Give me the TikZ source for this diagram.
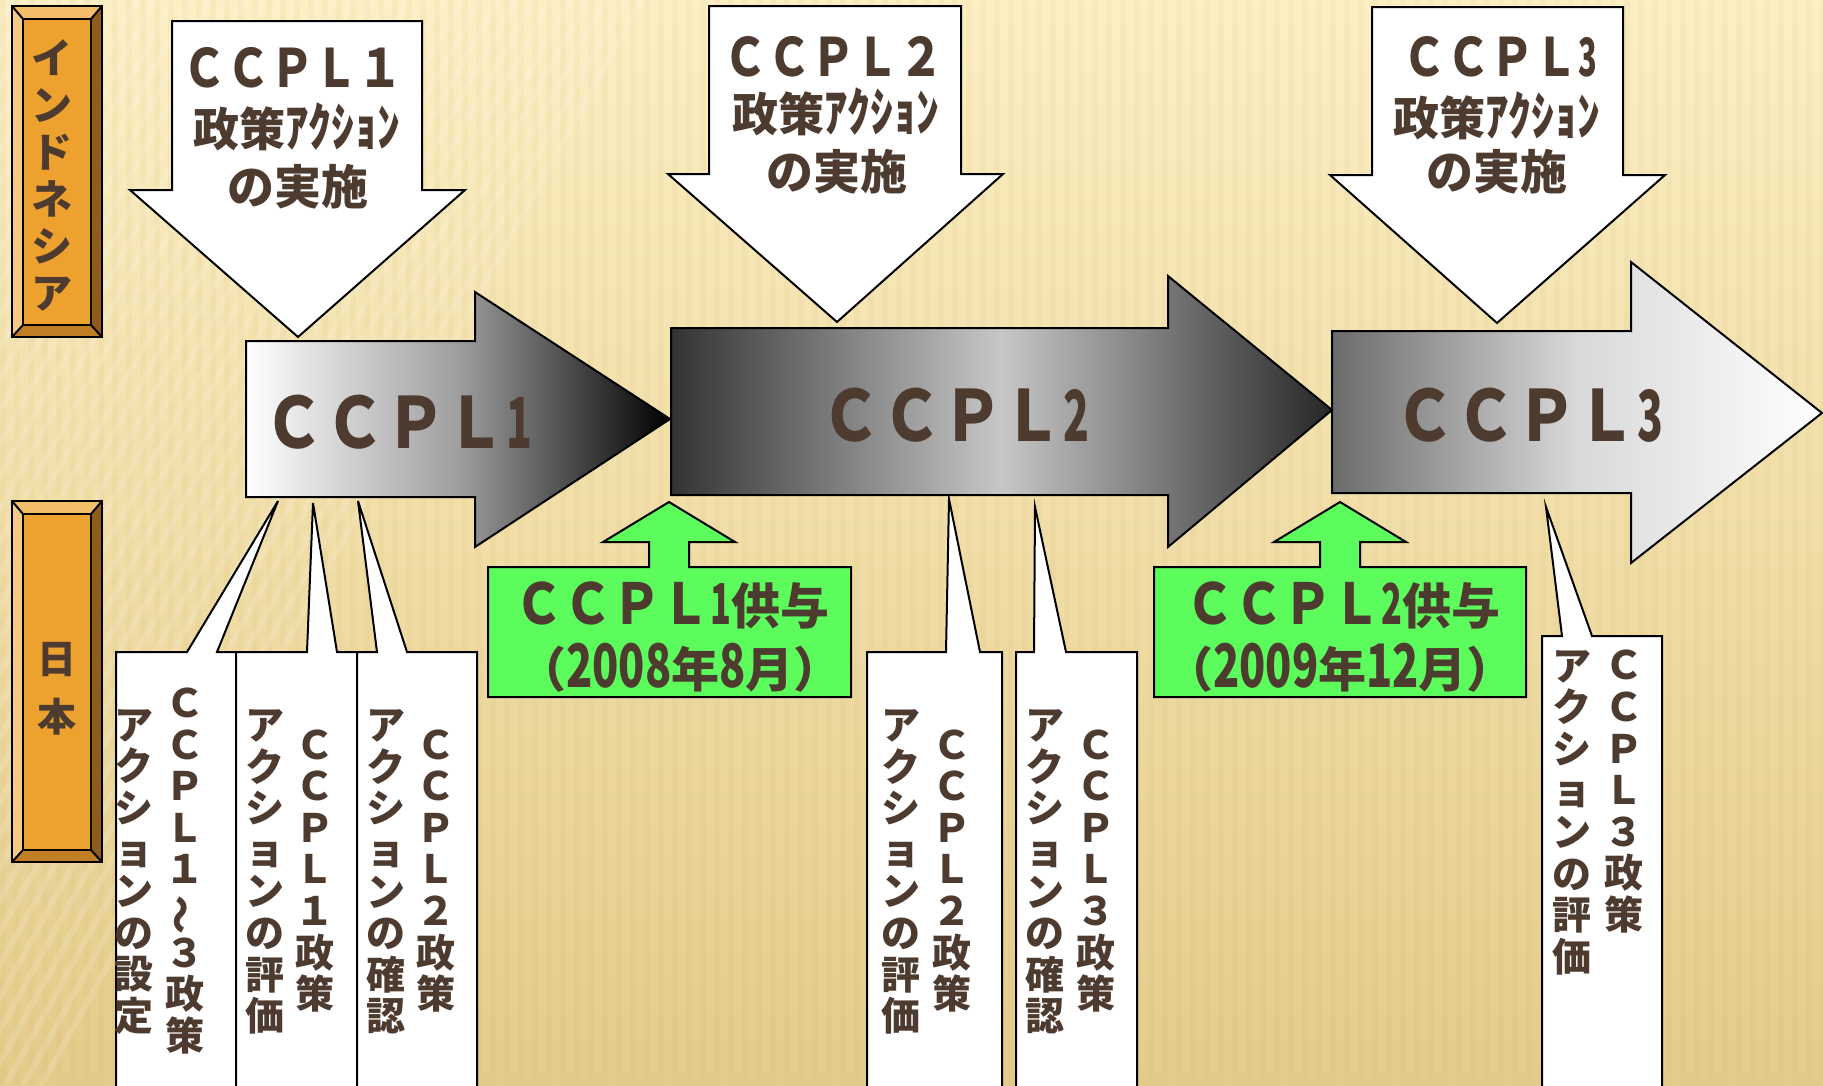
\documentclass[tikz,border=0pt]{standalone}
\usepackage{fontspec}
\usepackage{graphicx}
\newfontfamily\jp{Noto Sans CJK JP}
\definecolor{txt}{RGB}{78,59,48}
\definecolor{bgtop}{RGB}{252,239,196}
\definecolor{bgbot}{RGB}{228,203,138}
\definecolor{stripe}{RGB}{214,184,110}
\definecolor{orin}{RGB}{237,161,47}
\definecolor{orl}{RGB}{246,202,132}
\definecolor{ort}{RGB}{243,190,105}
\definecolor{orr}{RGB}{143,92,31}
\definecolor{orb}{RGB}{193,126,37}
\definecolor{grn}{RGB}{92,252,92}
\newcommand\bevbox[4]{%
  \fill[orl] (#1,#2) -- (#1+11,#2+13) -- (#1+11,#4-12) -- (#1,#4) -- cycle;
  \fill[ort] (#1,#2) -- (#3,#2) -- (#3-11,#2+13) -- (#1+11,#2+13) -- cycle;
  \fill[orr] (#3,#2) -- (#3,#4) -- (#3-11,#4-12) -- (#3-11,#2+13) -- cycle;
  \fill[orb] (#1,#4) -- (#3,#4) -- (#3-11,#4-12) -- (#1+11,#4-12) -- cycle;
  \draw[outl, fill=orin] (#1+11,#2+13) rectangle (#3-11,#4-12);
  \draw[outl] (#1,#2) rectangle (#3,#4);
  \draw[outl] (#1,#2) -- (#1+11,#2+13) (#3,#2) -- (#3-11,#2+13)
              (#1,#4) -- (#1+11,#4-12) (#3,#4) -- (#3-11,#4-12);
}
\newcommand\vwave{\rotatebox[origin=c]{90}{～}}
\begin{document}
\begin{tikzpicture}[x=1pt,y=-1pt,
  outl/.style={draw=black, line width=2pt, line join=miter},
  boldtxt/.style={text=txt, inner sep=0pt, font=\jp\bfseries},
  vtxt/.style={text=txt, inner sep=0pt, align=center, font=\jp\bfseries\fontsize{39}{41.6}\selectfont},
  callout/.style={outl, fill=white},
  gbox/.style={outl, fill=grn},
  downarr/.style={outl, fill=white}]
\useasboundingbox (0,0) rectangle (1823,1085);
\clip (0,0) rectangle (1823,1085);
% background
\shade[top color=bgtop, bottom color=bgbot] (0,0) rectangle (1823,1085);
\foreach \i in {0,14,...,1823} {\fill[stripe, opacity=0.10] (\i,0) rectangle ++(6,1085);}
\foreach \i in {-700,-682,...,40} {\fill[white, opacity=0.14] (\i,1085) -- ++(7,0) -- ++(600,-1085) -- ++(-7,0) -- cycle;}

% side labels
\bevbox{12}{6}{102}{337}
\bevbox{12}{501}{102}{862}
\node[vtxt, font=\jp\bfseries\fontsize{41}{47}\selectfont] (lid) at (52,175) {イ\\ン\\ド\\ネ\\シ\\ア};
\node[vtxt, font=\jp\bfseries\fontsize{39}{58}\selectfont] (ljp) at (57,689) {日\\本};

% callouts under arrows
\path[callout] (116,1100) -- (116,652) -- (187,652) -- (278,501) -- (217,652) -- (236,652) -- (236,1100) -- cycle;
\path[callout] (236,1100) -- (236,652) -- (307,652) -- (313,503) -- (337,652) -- (357,652) -- (357,1100) -- cycle;
\path[callout] (357,1100) -- (357,652) -- (377,652) -- (358,501) -- (407,652) -- (477,652) -- (477,1100) -- cycle;
\path[callout] (867,1100) -- (867,652) -- (946,652) -- (949,499) -- (980,652) -- (1002,652) -- (1002,1100) -- cycle;
\path[callout] (1016,1100) -- (1016,652) -- (1034,652) -- (1035,507) -- (1066,652) -- (1137,652) -- (1137,1100) -- cycle;
\path[callout] (1542,1100) -- (1542,636) -- (1562,636) -- (1546,507) -- (1592,636) -- (1662,636) -- (1662,1100) -- cycle;

\node[vtxt] (c1r) at (185,871) {Ｃ\\Ｃ\\Ｐ\\Ｌ\\１\\\vwave\\３\\政\\策};
\node[vtxt] (c1l) at (134,872) {ア\\ク\\シ\\ョ\\ン\\の\\設\\定};
\node[vtxt] (c2r) at (315,871) {Ｃ\\Ｃ\\Ｐ\\Ｌ\\１\\政\\策};
\node[vtxt] (c2l) at (265,872) {ア\\ク\\シ\\ョ\\ン\\の\\評\\価};
\node[vtxt] (c3r) at (436,871) {Ｃ\\Ｃ\\Ｐ\\Ｌ\\２\\政\\策};
\node[vtxt] (c3l) at (386,872) {ア\\ク\\シ\\ョ\\ン\\の\\確\\認};
\node[vtxt] (c4r) at (952,871) {Ｃ\\Ｃ\\Ｐ\\Ｌ\\２\\政\\策};
\node[vtxt] (c4l) at (901,872) {ア\\ク\\シ\\ョ\\ン\\の\\評\\価};
\node[vtxt] (c5r) at (1096,871) {Ｃ\\Ｃ\\Ｐ\\Ｌ\\３\\政\\策};
\node[vtxt] (c5l) at (1045,872) {ア\\ク\\シ\\ョ\\ン\\の\\確\\認};
\node[vtxt, anchor=north] (c6r) at (1624,650) {Ｃ\\Ｃ\\Ｐ\\Ｌ\\３\\政\\策};
\node[vtxt, anchor=north] (c6l) at (1572,650) {ア\\ク\\シ\\ョ\\ン\\の\\評\\価};

% green grant boxes
\path[gbox] (488,567) -- (649,567) -- (649,542) -- (603,542) -- (669,502) -- (735,542) -- (689,542) -- (689,567) -- (851,567) -- (851,697) -- (488,697) -- cycle;
\path[gbox] (1154,567) -- (1320,567) -- (1320,542) -- (1274,542) -- (1340,502) -- (1406,542) -- (1360,542) -- (1360,567) -- (1526,567) -- (1526,697) -- (1154,697) -- cycle;
\node[boldtxt, font=\jp\bfseries\fontsize{49}{50}\selectfont] (g1a) at (672,605) {\scalebox{1}[1.15]{ＣＣＰＬ}\scalebox{0.7}[1.15]{1}供与};
\node[boldtxt, font=\jp\bfseries\fontsize{48}{50}\selectfont] (g1b) at (680,668) {（\scalebox{0.9}[1.25]{2008}年\scalebox{0.9}[1.25]{8}月）};
\node[boldtxt, font=\jp\bfseries\fontsize{49}{50}\selectfont] (g2a) at (1343,605) {\scalebox{1}[1.15]{ＣＣＰＬ}\scalebox{0.7}[1.15]{2}供与};
\node[boldtxt, font=\jp\bfseries\fontsize{48}{50}\selectfont] (g2b) at (1340,668) {（\scalebox{0.9}[1.25]{2009}年\scalebox{0.9}[1.25]{12}月）};

% top down arrows
\path[downarr] (172,21) -- (422,21) -- (422,190) -- (465,190) -- (298,337) -- (130,190) -- (172,190) -- cycle;
\path[downarr] (709,6) -- (961,6) -- (961,174) -- (1003,174) -- (837,322) -- (668,174) -- (709,174) -- cycle;
\path[downarr] (1372,7) -- (1623,7) -- (1623,175) -- (1665,175) -- (1497,323) -- (1330,175) -- (1372,175) -- cycle;

\node[boldtxt, font=\jp\bfseries\fontsize{44}{46}\selectfont] (d1a) at (292,68) {\scalebox{1}[1.2]{ＣＣＰＬ１}};
\node[boldtxt, font=\jp\bfseries\fontsize{46}{48}\selectfont] (d1b) at (297,127) {政策\scalebox{1}[1.15]{ｱｸｼｮﾝ}};
\node[boldtxt, font=\jp\bfseries\fontsize{47}{48}\selectfont] (d1c) at (298,187) {の実施};
\node[boldtxt, font=\jp\bfseries\fontsize{44}{46}\selectfont] (d2a) at (833,57) {\scalebox{1}[1.2]{ＣＣＰＬ２}};
\node[boldtxt, font=\jp\bfseries\fontsize{46}{48}\selectfont] (d2b) at (836,112) {政策\scalebox{1}[1.15]{ｱｸｼｮﾝ}};
\node[boldtxt, font=\jp\bfseries\fontsize{47}{48}\selectfont] (d2c) at (837,172) {の実施};
\node[boldtxt, font=\jp\bfseries\fontsize{44}{46}\selectfont] (d3a) at (1500,57) {\scalebox{1}[1.2]{ＣＣＰＬ\scalebox{0.7}[1]{3}}};
\node[boldtxt, font=\jp\bfseries\fontsize{46}{48}\selectfont] (d3b) at (1497,116) {政策\scalebox{1}[1.15]{ｱｸｼｮﾝ}};
\node[boldtxt, font=\jp\bfseries\fontsize{47}{48}\selectfont] (d3c) at (1497,172) {の実施};

% main timeline arrows
\path[outl, left color=white, right color=black, middle color=black!38]
  (246,341) -- (475,341) -- (475,292) -- (670,419) -- (475,547) -- (475,497) -- (246,497) -- cycle;
\path[outl, left color=black!80, right color=black!85, middle color=black!22]
  (671,328) -- (1168,328) -- (1168,276) -- (1332,410) -- (1168,547) -- (1168,495) -- (671,495) -- cycle;
\path[outl, left color=black!58, right color=white, middle color=black!15]
  (1332,331) -- (1631,331) -- (1631,262) -- (1822,413) -- (1631,563) -- (1631,493) -- (1332,493) -- cycle;

\node[boldtxt, font=\jp\bfseries\fontsize{64}{66}\selectfont] (m1) at (398,422) {\scalebox{0.95}[1.1]{ＣＣＰＬ\scalebox{0.7}[1]{1}}};
\node[boldtxt, font=\jp\bfseries\fontsize{64}{66}\selectfont] (m2) at (955,415) {\scalebox{0.95}[1.1]{ＣＣＰＬ\scalebox{0.7}[1]{2}}};
\node[boldtxt, font=\jp\bfseries\fontsize{64}{66}\selectfont] (m3) at (1529,415) {\scalebox{0.95}[1.1]{ＣＣＰＬ\scalebox{0.7}[1]{3}}};
\end{tikzpicture}
\end{document}
